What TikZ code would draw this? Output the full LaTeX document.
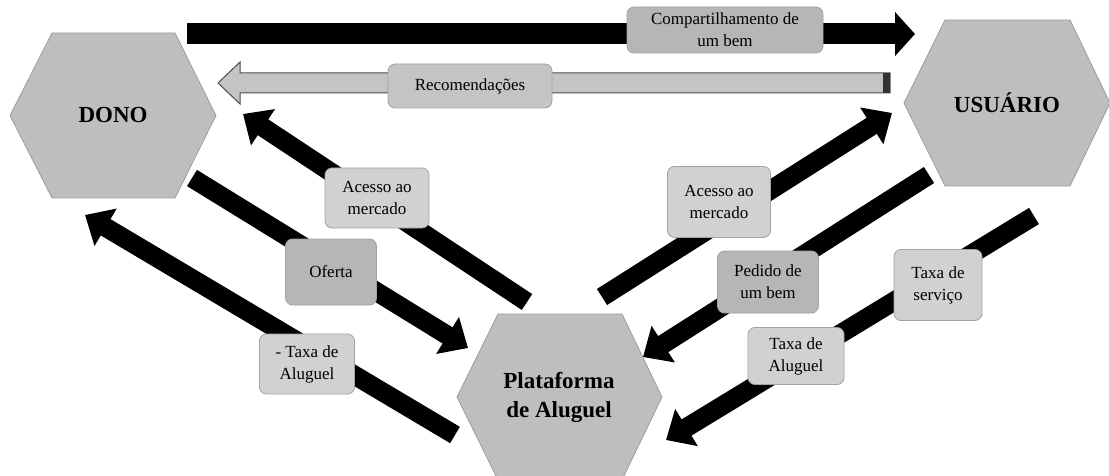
\documentclass[tikz,border=0pt]{standalone}
\usepackage{fontspec}
\setmainfont{Liberation Serif}
\usetikzlibrary{arrows.meta,calc}

\definecolor{hexgray}{HTML}{BEBEBE}
\definecolor{hexline}{HTML}{9C9C9C}
\definecolor{taglight}{HTML}{D1D1D1}
\definecolor{tagmid}{HTML}{C4C4C4}
\definecolor{tagdark}{HTML}{B6B6B6}
\definecolor{tagline}{HTML}{A2A2A2}

\tikzset{
  hexa/.style={fill=hexgray,draw=hexline,line width=0.8pt},
  hexlabel/.style={font=\fontsize{23}{29}\selectfont\bfseries,align=center},
  tag/.style={rectangle,rounded corners=7pt,draw=tagline,fill=taglight,line width=0.8pt,
    font=\fontsize{17}{22}\selectfont,align=center,inner sep=0pt},
  tagd/.style={tag,fill=tagdark},
  flow/.style={line width=19pt,black,-{Triangle[width=42pt,length=24pt]}},
  hollow/.style={fill=tagmid,draw=black!70,line width=1pt},
}

\begin{document}
\begin{tikzpicture}[x=1pt,y=-1pt]
\useasboundingbox (0,0) rectangle (1109,476);
\clip (0,0) rectangle (1109,476);

% The three actors, drawn first so the arrows sit on top
\filldraw[hexa] (52,33) -- (175,33) -- (216,115.5) -- (175,198) -- (52,198) -- (10,115.5) -- cycle;
\filldraw[hexa] (945,20) -- (1070,20) -- (1110,103) -- (1070,186) -- (945,186) -- (904,103) -- cycle;
\filldraw[hexa] (498,314) -- (622,314) -- (662,397) -- (622,480) -- (498,480) -- (457,397) -- cycle;
\node[hexlabel] (dono) at (113,115) {DONO};
\node[hexlabel] (usuario) at (1007,103) {USUÁRIO};
\node[hexlabel] (plataforma) at (559,397) {Plataforma\\de Aluguel};

% End points of the flows
\coordinate (topA) at (187,34);
\coordinate (topB) at (915,34);
\coordinate (recA) at (890,83);
\coordinate (recB) at (218,83);
\coordinate (accLa) at (527,302);
\coordinate (accLb) at (243,114);
\coordinate (ofeA) at (192,178);
\coordinate (ofeB) at (468,348);
\coordinate (txLa) at (455,435);
\coordinate (txLb) at (85,215);
\coordinate (accRa) at (602,297);
\coordinate (accRb) at (892,113);
\coordinate (pedA) at (929,175);
\coordinate (pedB) at (643,357);
\coordinate (txRa) at (1034,216);
\coordinate (txRb) at (666,440);

% Sharing arrow on top and the hollow recommendation arrow
\draw[flow,line width=21pt,-{Triangle[width=43pt,length=20pt]}] (topA) -- (topB);
\filldraw[hollow] (recA) -- ++(0,-10) -- ($(recB)+(22,-10)$) -- ($(recB)+(22,-21)$) -- (recB)
  -- ($(recB)+(22,21)$) -- ($(recB)+(22,10)$) -- ($(recA)+(0,10)$) -- cycle;
\fill[black!80] ($(recA)+(-7,-10)$) rectangle ($(recA)+(0,10)$);

% The diagonal flows
\draw[flow] (accLa) -- (accLb);
\draw[flow] (ofeA) -- (ofeB);
\draw[flow] (txLa) -- (txLb);
\draw[flow] (accRa) -- (accRb);
\draw[flow] (pedA) -- (pedB);
\draw[flow] (txRa) -- (txRb);

% Labels on the flows
\node[tagd,minimum width=196pt,minimum height=46pt] (comp) at (725,30) {Compartilhamento de\\um bem};
\node[tag,fill=tagmid,minimum width=164pt,minimum height=44pt] (rec) at (470,86) {Recomendações};
\node[tag,minimum width=104pt,minimum height=60pt] (accL) at (377,198) {Acesso ao\\mercado};
\node[tagd,minimum width=91pt,minimum height=66pt] (ofe) at (331,272) {Oferta};
\node[tag,minimum width=95pt,minimum height=60pt] (txL) at (307,364) {- Taxa de\\Aluguel};
\node[tag,minimum width=103pt,minimum height=71pt] (accR) at (719,202) {Acesso ao\\mercado};
\node[tagd,minimum width=101pt,minimum height=62pt] (ped) at (768,282) {Pedido de\\um bem};
\node[tag,minimum width=88pt,minimum height=71pt] (serv) at (938,285) {Taxa de\\serviço};
\node[tag,minimum width=96pt,minimum height=57pt] (txR) at (796,356) {Taxa de\\Aluguel};

\end{tikzpicture}
\end{document}
